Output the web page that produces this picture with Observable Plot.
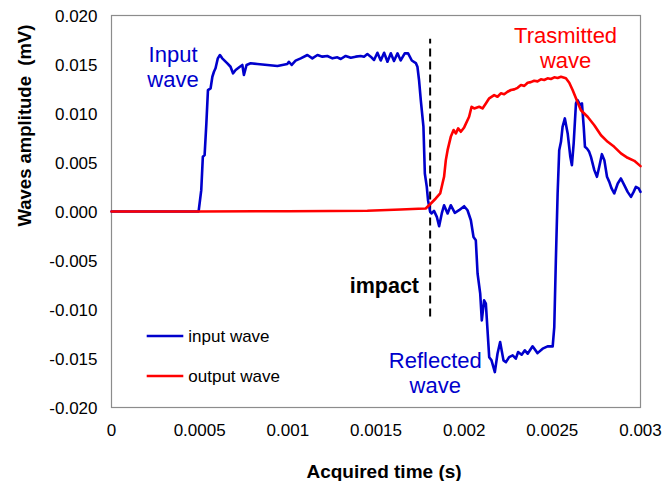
<!DOCTYPE html>
<html><head><meta charset="utf-8">
<script src="https://cdn.jsdelivr.net/npm/d3@7"></script>
<script src="https://cdn.jsdelivr.net/npm/@observablehq/plot@0.6"></script>
<style>body{margin:0;background:#fff;}</style>
</head><body><div id="chart"></div>
<script>
// ---- data ----
const inputTime = [0,0.000494,0.000509,0.000518,0.000528,0.000538,0.000547,0.000562,0.000572,0.000581,0.000590,0.000603,0.000615,0.000628,0.000657,0.000675,0.000689,0.000704,0.000728,0.000742,0.000751,0.000766,0.000789,0.000827,0.000884,0.000941,0.000997,0.001006,0.001022,0.001044,0.001073,0.001111,0.001139,0.001168,0.001196,0.001224,0.001253,0.001281,0.001300,0.001328,0.001357,0.001385,0.001413,0.001432,0.001451,0.001470,0.001489,0.001508,0.001527,0.001546,0.001565,0.001584,0.001602,0.001622,0.001640,0.001663,0.001682,0.001703,0.001726,0.001735,0.001744,0.001754,0.001769,0.001777,0.001788,0.001795,0.001807,0.001815,0.001829,0.001845,0.001858,0.001873,0.001886,0.001906,0.001924,0.001947,0.001971,0.002000,0.002019,0.002038,0.002053,0.002066,0.002076,0.002091,0.002100,0.002113,0.002123,0.002142,0.002155,0.002174,0.002189,0.002204,0.002223,0.002237,0.002255,0.002275,0.002293,0.002306,0.002326,0.002344,0.002360,0.002388,0.002416,0.002445,0.002473,0.002502,0.002511,0.002520,0.002530,0.002539,0.002549,0.002558,0.002571,0.002587,0.002602,0.002611,0.002621,0.002634,0.002643,0.002658,0.002668,0.002678,0.002685,0.002696,0.002709,0.002719,0.002738,0.002753,0.002766,0.002781,0.002795,0.002810,0.002823,0.002836,0.002851,0.002871,0.002889,0.002908,0.002927,0.002946,0.002961,0.002974,0.002990,0.003000];
const inputAmp = [0,0,0.00218,0.00558,0.00575,0.00899,0.01239,0.01257,0.01375,0.01426,0.01461,0.01563,0.01597,0.01563,0.01512,0.01477,0.01410,0.01444,0.01477,0.01495,0.01393,0.01495,0.01512,0.01505,0.01495,0.01485,0.01505,0.01528,0.01495,0.01539,0.01563,0.01597,0.01563,0.01597,0.01580,0.01587,0.01563,0.01573,0.01556,0.01587,0.01569,0.01580,0.01587,0.01580,0.01607,0.01580,0.01546,0.01620,0.01541,0.01620,0.01528,0.01614,0.01536,0.01614,0.01541,0.01614,0.01614,0.01541,0.01514,0.01477,0.01342,0.01137,0.00865,0.00388,0.00251,0.00115,-0.00004,-0.00020,0.00006,-0.00055,-0.00150,-0.00020,0.00064,-0.00020,0.00064,-0.00014,0.00013,0.00054,0.00013,-0.00089,-0.00260,-0.00293,-0.00633,-0.00838,-0.01111,-0.00906,-0.00940,-0.01486,-0.01519,-0.01639,-0.01451,-0.01332,-0.01519,-0.01537,-0.01486,-0.01468,-0.01502,-0.01434,-0.01461,-0.01417,-0.01451,-0.01376,-0.01445,-0.01400,-0.01376,-0.01376,-0.01179,-0.00498,0.00184,0.00626,0.00711,0.00864,0.00950,0.00797,0.00558,0.00473,0.00695,0.01103,0.01137,0.01086,0.01103,0.00864,0.00660,0.00644,0.00609,0.00558,0.00422,0.00354,0.00456,0.00585,0.00524,0.00354,0.00302,0.00235,0.00184,0.00286,0.00337,0.00269,0.00200,0.00149,0.00200,0.00251,0.00235,0.00200];
const outputTime = [0,0.000500,0.001000,0.001243,0.001451,0.001640,0.001740,0.001782,0.001811,0.001839,0.001864,0.001877,0.001886,0.001896,0.001906,0.001924,0.001940,0.001953,0.001966,0.001981,0.002000,0.002028,0.002042,0.002057,0.002085,0.002104,0.002123,0.002142,0.002170,0.002189,0.002208,0.002227,0.002246,0.002265,0.002284,0.002303,0.002322,0.002341,0.002360,0.002378,0.002397,0.002416,0.002435,0.002454,0.002473,0.002492,0.002511,0.002530,0.002549,0.002577,0.002596,0.002615,0.002634,0.002662,0.002700,0.002738,0.002776,0.002814,0.002851,0.002889,0.002927,0.002965,0.003000];
const outputAmp = [0,0,0.00003,0.00005,0.00008,0.00020,0.00028,0.00031,0.00082,0.00133,0.00184,0.00286,0.00354,0.00524,0.00626,0.00762,0.00831,0.00797,0.00848,0.00813,0.00858,0.00967,0.01069,0.01052,0.01069,0.01052,0.01103,0.01155,0.01188,0.01171,0.01206,0.01196,0.01222,0.01240,0.01246,0.01262,0.01290,0.01282,0.01314,0.01320,0.01334,0.01328,0.01349,0.01342,0.01359,0.01352,0.01369,0.01362,0.01375,0.01359,0.01314,0.01239,0.01155,0.01033,0.00967,0.00880,0.00778,0.00711,0.00660,0.00593,0.00548,0.00517,0.00463];

const xTicks = [0, 0.0005, 0.001, 0.0015, 0.002, 0.0025, 0.003];
const yTicks = [-0.02, -0.015, -0.01, -0.005, 0, 0.005, 0.01, 0.015, 0.02];
const seriesNames = ["input wave", "output wave"];
const seriesColors = ["#0000CC", "#FF0000"];

const noteTexts = ["Input\nwave", "Reflected\nwave", "Trasmitted\nwave"];
const noteTime = [0.000349, 0.001836, 0.002575];
const noteAmp = [0.01270, -0.01857, 0.01461];
const noteColors = ["#0000CC", "#0000CC", "#FF0000"];

const impactLabel = "impact";
const impactTime = 0.001807;
const impactTop = 0.01757;
const impactBottom = -0.01077;
const impactLabelTime = 0.001744;
const impactLabelAmp = -0.00835;

const xTitle = "Acquired time (s)";
const yTitle = "Waves amplitude  (mV)";

// ---- build tables ----
const inputData = inputTime.map((t, i) => ({t, v: inputAmp[i]}));
const outputData = outputTime.map((t, i) => ({t, v: outputAmp[i]}));
const notes = noteTexts.map((text, i) => ({text, t: noteTime[i], v: noteAmp[i], color: noteColors[i]}));

const font = "'Liberation Sans', Arial, sans-serif";

const plot = Plot.plot({
  width: 662,
  height: 481,
  marginLeft: 111,
  marginRight: 22,
  marginTop: 15,
  marginBottom: 74,
  style: {fontFamily: font, fontSize: "17px", background: "#fff", color: "#000"},
  x: {domain: [0, 0.003]},
  y: {domain: [-0.02, 0.02]},
  marks: [
    Plot.frame({stroke: "#8c8c8c", strokeWidth: 1.2}),
    Plot.axisX({ticks: xTicks, tickFormat: d => String(d), tickSize: 0, tickPadding: 16, label: null, fontSize: 17}),
    Plot.axisY({ticks: yTicks, tickFormat: d => d.toFixed(3), tickSize: 0, tickPadding: 14, label: null, fontSize: 17, dy: 1}),
    Plot.ruleX([impactTime], {y1: impactBottom, y2: impactTop, stroke: "#000", strokeWidth: 2, strokeDasharray: "8,5"}),
    Plot.line(inputData, {x: "t", y: "v", stroke: seriesColors[0], strokeWidth: 2.6}),
    Plot.line(outputData, {x: "t", y: "v", stroke: seriesColors[1], strokeWidth: 2.6}),
    Plot.text(notes, {x: "t", y: "v", text: "text", fill: "color", fontSize: 22, lineHeight: 1.16, lineAnchor: "bottom", textAnchor: "middle"}),
    Plot.text([impactLabel], {x: impactLabelTime, y: impactLabelAmp, text: d => d, fontSize: 21.5, fontWeight: "bold", textAnchor: "end", lineAnchor: "bottom", fill: "#000"}),
    Plot.text([xTitle], {frameAnchor: "bottom", dx: 8, dy: 70, text: d => d, fontSize: 19, fontWeight: "bold", lineAnchor: "bottom", fill: "#000"}),
    Plot.text([yTitle], {frameAnchor: "left", dx: -86, dy: 15, rotate: -90, text: d => d, fontSize: 18.5, fontWeight: "bold", fill: "#000"})
  ]
});

document.getElementById("chart").appendChild(plot);

// ---- legend (inside the plot area, lower left) ----
const svg = d3.select(plot);
const lg = svg.append("g").attr("font-family", font).attr("font-size", 17).attr("text-anchor", "start");
seriesNames.forEach((name, i) => {
  const y = 336 + i * 40;
  lg.append("line").attr("x1", 146.7).attr("x2", 183.3).attr("y1", y).attr("y2", y)
    .attr("stroke", seriesColors[i]).attr("stroke-width", 2.6);
  lg.append("text").attr("x", 188.3).attr("y", y).attr("dy", "0.35em").attr("fill", "#000").text(name);
});
</script>
</body></html>
